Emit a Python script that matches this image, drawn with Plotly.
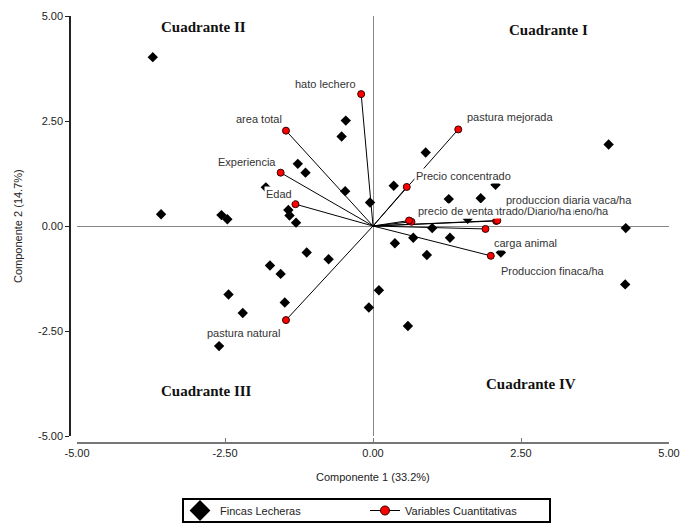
import plotly.graph_objects as go

# ---- Data: farms (diamonds) ----
finca_x = [-3.72, -0.46, -0.53, -1.27, -1.14, -0.47, -0.05, -3.58, -2.56, -2.46,
           -1.43, -1.41, -1.30, -1.81, -1.12, -0.75, 0.89, 3.98, 0.35, 2.07,
           1.82, 1.28, 1.60, 1.00, 4.27, 0.68, 1.30, 0.37, 0.91, 2.16,
           4.26, 0.10, -1.74, -1.56, -2.44, -1.49, -2.20, -2.60, -0.07, 0.59]
finca_y = [4.02, 2.51, 2.13, 1.48, 1.27, 0.83, 0.56, 0.28, 0.26, 0.16,
           0.38, 0.25, 0.08, 0.92, -0.63, -0.79, 1.75, 1.94, 0.96, 0.98,
           0.66, 0.64, 0.17, -0.05, -0.05, -0.28, -0.28, -0.41, -0.69, -0.63,
           -1.39, -1.53, -0.94, -1.14, -1.63, -1.82, -2.07, -2.86, -1.94, -2.38]

# ---- Data: quantitative variables (vectors) ----
var_names = ["hato lechero", "area total", "Experiencia", "Edad", "pastura mejorada",
             "Precio concentrado", "Consumo de heno/ha", "Concentrado/Diario/ha",
             "precio de venta", "produccion diaria vaca/ha", "carga animal",
             "Produccion finaca/ha", "pastura natural"]
var_x = [-0.20, -1.47, -1.56, -1.31, 1.44, 0.57, 2.08, 0.65, 0.61, 2.10, 1.90, 1.99, -1.47]
var_y = [3.14, 2.27, 1.27, 0.52, 2.30, 0.93, 0.12, 0.10, 0.13, 0.13, -0.07, -0.71, -2.24]

tick_vals = [-5, -2.5, 0, 2.5, 5]
tick_text = ["-5.00", "-2.50", "0.00", "2.50", "5.00"]

quadrants = ["Cuadrante I", "Cuadrante II", "Cuadrante III", "Cuadrante IV"]

# label placement (pixel shifts from the point, anchor)
label_style = [(-36, 10, "center"), (-27, 12, "center"), (-34, 11, "center"), (-16, 10, "center"),
               (52, 12, "center"), (57, 11, "center"), (115, 10, "right"), (163, 11, "right"),
               (47, 10, "center"), (72, 21, "center"), (40, -14, "center"),
               (62, -15, "center"), (-42, -13, "center")]

W, H = 681, 525
SANS = "Liberation Sans, Arial, sans-serif"
SERIF = "Liberation Serif, Times New Roman, serif"

fig = go.Figure()

# vector lines from origin
lx, ly = [], []
for vx, vy in zip(var_x, var_y):
    lx += [0, vx, None]
    ly += [0, vy, None]
fig.add_trace(go.Scatter(x=lx, y=ly, mode="lines", line=dict(color="black", width=1),
                         showlegend=False, hoverinfo="skip"))

fig.add_trace(go.Scatter(x=finca_x, y=finca_y, mode="markers",
                         marker=dict(symbol="diamond", size=8, color="black"),
                         showlegend=False, name="Fincas Lecheras"))

fig.add_trace(go.Scatter(x=var_x, y=var_y, mode="markers", text=var_names,
                         marker=dict(symbol="circle", size=7, color="#ff0000",
                                     line=dict(color="#300000", width=1)),
                         showlegend=False, name="Variables Cuantitativas"))

# legend-only entries
fig.add_trace(go.Scatter(x=[None], y=[None], mode="markers", name="Fincas Lecheras",
                         marker=dict(symbol="diamond", size=16, color="black")))
fig.add_trace(go.Scatter(x=[None], y=[None], mode="lines+markers", name="Variables Cuantitativas",
                         line=dict(color="black", width=1),
                         marker=dict(symbol="circle", size=9, color="#ff0000",
                                     line=dict(color="#300000", width=1))))

annotations = []
for name, vx, vy, (dx, dy, anc) in zip(var_names, var_x, var_y, label_style):
    annotations.append(dict(x=vx, y=vy, xref="x", yref="y", text=name, showarrow=False,
                            xshift=dx, yshift=dy, xanchor=anc, yanchor="middle",
                            bgcolor="white", borderpad=1,
                            font=dict(family=SANS, size=11, color="#333333")))

quad_pos = [(548, 30), (203, 27), (207, 391), (531, 384)]
for q, (px, py) in zip(quadrants, quad_pos):
    annotations.append(dict(x=px / W, y=1 - py / H, xref="paper", yref="paper", text="<b>%s</b>" % q,
                            showarrow=False, xanchor="center", yanchor="middle",
                            font=dict(family=SERIF, size=15, color="#111111")))

annotations.append(dict(x=373 / W, y=1 - 477 / H, xref="paper", yref="paper",
                        text="Componente 1 (33.2%)", showarrow=False, xanchor="center", yanchor="middle",
                        font=dict(family=SANS, size=11, color="#222222")))
annotations.append(dict(x=18 / W, y=1 - 226 / H, xref="paper", yref="paper",
                        text="Componente 2 (14.7%)", showarrow=False, textangle=-90,
                        xanchor="center", yanchor="middle",
                        font=dict(family=SANS, size=11, color="#222222")))

shapes = [dict(type="rect", xref="paper", yref="paper", x0=183 / W, x1=550 / W,
               y0=1 - 522 / H, y1=1 - 499 / H, line=dict(color="black", width=2))]

fig.update_layout(
    width=W, height=H,
    margin=dict(l=0, r=0, t=0, b=0),
    paper_bgcolor="white", plot_bgcolor="white",
    xaxis=dict(range=[-5, 5], domain=[77 / W, 669 / W], anchor="free", position=1 - 443 / H,
               tickvals=tick_vals, ticktext=tick_text, ticks="inside", ticklen=4,
               tickcolor="#777777", showline=True, linecolor="#777777", linewidth=2,
               showgrid=False, zeroline=True, zerolinecolor="#888888", zerolinewidth=1,
               tickfont=dict(family=SANS, size=11, color="#222222"), automargin=False),
    yaxis=dict(range=[-5, 5], domain=[1 - 436 / H, 1 - 16 / H], anchor="free", position=70 / W,
               tickvals=tick_vals, ticktext=tick_text, ticks="outside", ticklen=4,
               tickcolor="#222222", showline=True, linecolor="#222222", linewidth=1.5,
               showgrid=False, zeroline=True, zerolinecolor="#888888", zerolinewidth=1,
               tickfont=dict(family=SANS, size=11, color="#222222"), automargin=False),
    legend=dict(orientation="h", x=180 / W, y=1 - 510.5 / H, xanchor="left", yanchor="middle",
                bgcolor="rgba(0,0,0,0)", borderwidth=0, entrywidth=140, entrywidthmode="pixels",
                font=dict(family=SANS, size=11, color="#222222"), itemclick=False),
    annotations=annotations,
    shapes=shapes,
    showlegend=True,
)

fig.write_html("out.html", config={"displayModeBar": False},
               post_script="document.body.style.margin='0';document.body.style.overflow='hidden';")
